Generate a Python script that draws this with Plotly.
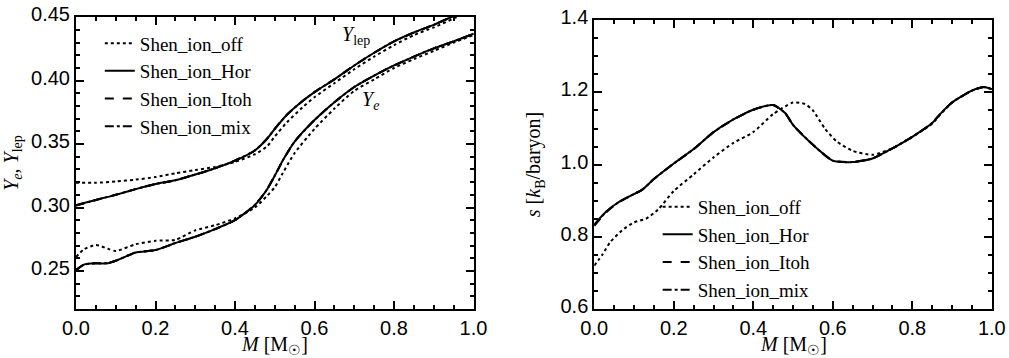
import plotly.graph_objects as go

# ---------------- data ----------------
M_lep = [0, .05, .1, .15, .2, .25, .3, .35, .4, .45, .48, .5, .53, .57, .6, .65, .7, .75, .8, .85, .9, .95, 1.0]
ylep_hor = [.302, .306, .310, .3145, .3185, .3215, .326, .331, .337, .345, .354, .362, .373, .384, .391, .401, .412, .422, .431, .438, .444, .451, .458]
ylep_itoh = [.3015, .306, .310, .3145, .3185, .3215, .326, .331, .337, .345, .354, .362, .373, .384, .391, .401, .412, .422, .431, .438, .444, .451, .458]
ylep_mix = [.3015, .306, .310, .3145, .3185, .3215, .326, .331, .337, .345, .354, .362, .373, .384, .391, .401, .412, .422, .431, .438, .444, .451, .458]
ylep_off = [.3195, .3195, .3205, .322, .324, .327, .3295, .332, .336, .342, .348, .356, .367, .379, .387, .398, .409, .419, .428, .436, .442, .449, .456]

M_ye = [0, .02, .05, .08, .1, .15, .2, .25, .3, .35, .4, .45, .48, .5, .52, .55, .6, .65, .7, .75, .8, .85, .9, .95, 1.0]
ye_hor = [.251, .255, .256, .256, .258, .2645, .2665, .272, .277, .283, .29, .302, .314, .325, .337, .352, .369, .383, .395, .404, .412, .419, .4255, .431, .437]
ye_itoh = [.2505, .255, .256, .2562, .258, .2645, .2665, .272, .277, .283, .29, .302, .314, .325, .337, .352, .369, .383, .395, .404, .412, .419, .4255, .431, .437]
ye_mix = [.2505, .255, .256, .2562, .258, .2645, .2665, .272, .277, .283, .29, .302, .314, .325, .337, .352, .369, .383, .395, .404, .412, .419, .4255, .431, .437]
M_ye_off = [0, .02, .05, .08, .1, .15, .2, .25, .3, .35, .4, .45, .48, .5, .52, .55, .6, .65, .7, .75, .8, .85, .9, .95, 1.0]
ye_off = [.261, .267, .2705, .2675, .2657, .271, .2738, .2745, .282, .286, .2915, .300, .309, .316, .327, .343, .362, .378, .392, .401, .410, .417, .4235, .430, .436]

M_s = [0, .03, .06, .09, .12, .15, .2, .25, .3, .35, .4, .45, .48, .5, .55, .6, .65, .7, .75, .8, .85, .87, .9, .95, .98, 1.0]
s_hor = [.834, .87, .895, .913, .93, .96, 1.003, 1.043, 1.09, 1.125, 1.152, 1.165, 1.143, 1.11, 1.055, 1.011, 1.007, 1.017, 1.045, 1.077, 1.115, 1.14, 1.172, 1.205, 1.215, 1.209]
s_itoh = [.830, .868, .895, .913, .93, .96, 1.003, 1.043, 1.09, 1.125, 1.152, 1.165, 1.143, 1.11, 1.055, 1.011, 1.007, 1.017, 1.045, 1.077, 1.115, 1.14, 1.172, 1.205, 1.215, 1.209]
s_mix = [.832, .869, .895, .913, .93, .96, 1.003, 1.043, 1.09, 1.125, 1.152, 1.165, 1.143, 1.11, 1.055, 1.011, 1.007, 1.017, 1.045, 1.077, 1.115, 1.14, 1.172, 1.205, 1.215, 1.209]
M_s_off = [0, .02, .04, .07, .1, .13, .16, .2, .25, .3, .35, .4, .45, .5, .53, .55, .58, .61, .65, .7, .75, .8, .85, .87, .9, .95, .98, 1.0]
s_off = [.72, .75, .785, .818, .84, .85, .875, .927, .973, 1.02, 1.06, 1.09, 1.14, 1.172, 1.168, 1.15, 1.1, 1.064, 1.038, 1.027, 1.045, 1.077, 1.113, 1.138, 1.172, 1.205, 1.215, 1.209]

names = ["Shen_ion_off", "Shen_ion_Hor", "Shen_ion_Itoh", "Shen_ion_mix"]
dashes = ["dot", "solid", "dash", "dashdot"]

x_ticks = [0.0, 0.2, 0.4, 0.6, 0.8, 1.0]
yl_ticks = [0.25, 0.30, 0.35, 0.40, 0.45]
yr_ticks = [0.6, 0.8, 1.0, 1.2, 1.4]

SERIF = "Liberation Serif"
SANS = "Liberation Sans"

fig = go.Figure()

left_lep = [(M_lep, ylep_off), (M_lep, ylep_hor), (M_lep, ylep_itoh), (M_lep, ylep_mix)]
left_ye = [(M_ye_off, ye_off), (M_ye, ye_hor), (M_ye, ye_itoh), (M_ye, ye_mix)]
right_s = [(M_s_off, s_off), (M_s, s_hor), (M_s, s_itoh), (M_s, s_mix)]

for i in range(4):
    fig.add_trace(go.Scatter(x=left_lep[i][0], y=left_lep[i][1], mode="lines", name=names[i],
                             line=dict(color="black", width=2, dash=dashes[i], shape="spline", smoothing=0.6),
                             xaxis="x", yaxis="y", legend="legend", showlegend=True))
for i in range(4):
    fig.add_trace(go.Scatter(x=left_ye[i][0], y=left_ye[i][1], mode="lines", name=names[i],
                             line=dict(color="black", width=2, dash=dashes[i], shape="spline", smoothing=0.6),
                             xaxis="x", yaxis="y", showlegend=False))
for i in range(4):
    fig.add_trace(go.Scatter(x=right_s[i][0], y=right_s[i][1], mode="lines", name=names[i],
                             line=dict(color="black", width=2, dash=dashes[i], shape="spline", smoothing=0.6),
                             xaxis="x2", yaxis="y2", legend="legend2", showlegend=True))

axis_common = dict(showline=True, linecolor="black", linewidth=2, mirror="ticks",
                   ticks="inside", ticklen=8, tickwidth=1.5, tickcolor="black",
                   showgrid=False, zeroline=False, ticklabeloverflow="allow",
                   tickfont=dict(family=SANS, size=20, color="black"))

minor_x = dict(ticks="inside", ticklen=4, dtick=0.05, tickcolor="black", tickwidth=1.5)

fig.update_layout(
    width=1009, height=358,
    margin=dict(l=76, r=14, t=3, b=49),
    paper_bgcolor="white", plot_bgcolor="white",
    font=dict(family=SERIF, size=19, color="black"),
    xaxis=dict(domain=[0, 0.4342], range=[0, 1.0005], tickvals=x_ticks, tickformat=".1f",
               minor=minor_x, anchor="y", **axis_common),
    yaxis=dict(domain=[0, 1], range=[0.22, 0.4502], tickvals=yl_ticks, tickformat=".2f",
               ticklabelshift=-3,
               minor=dict(ticks="inside", ticklen=4, dtick=0.01, tickcolor="black", tickwidth=1.5),
               title=dict(text="<i>Y</i><sub><i>e</i></sub>, <i>Y</i><sub>lep</sub>",
                          font=dict(family=SERIF, size=20, color="black"), standoff=8),
               anchor="x", **axis_common),
    xaxis2=dict(domain=[0.5658, 1], range=[0, 1.0005], tickvals=x_ticks, tickformat=".1f",
                minor=minor_x, anchor="y2", **axis_common),
    yaxis2=dict(domain=[0, 0.990], range=[0.6, 1.4008], tickvals=yr_ticks, tickformat=".1f",
                ticklabelshift=-3,
                minor=dict(ticks="inside", ticklen=4, dtick=0.05, tickcolor="black", tickwidth=1.5),
                title=dict(text="<i>s</i> [<i>k</i><sub>B</sub>/baryon]",
                           font=dict(family=SERIF, size=20, color="black"), standoff=14),
                anchor="x2", **axis_common),
    legend=dict(x=0.026, y=0.975, xanchor="left", yanchor="top", bgcolor="rgba(0,0,0,0)",
                font=dict(family=SERIF, size=19, color="black"), itemwidth=30,
                tracegroupgap=0),
    legend2=dict(x=0.635, y=0.415, xanchor="left", yanchor="top", bgcolor="rgba(0,0,0,0)",
                 font=dict(family=SERIF, size=19, color="black"), itemwidth=30,
                 tracegroupgap=0),
    annotations=[
        dict(text="<i>Y</i><sub>lep</sub>", x=0.704, y=0.4357, xref="x", yref="y", showarrow=False,
             font=dict(family=SERIF, size=20, color="black")),
        dict(text="<i>Y</i><sub><i>e</i></sub>", x=0.742, y=0.3846, xref="x", yref="y", showarrow=False,
             font=dict(family=SERIF, size=20, color="black")),
        dict(text="<i>M</i> [M<sub>☉</sub>]", x=0.2171, y=-0.125, xref="paper", yref="paper",
             xanchor="center", yanchor="middle", showarrow=False,
             font=dict(family=SERIF, size=20, color="black")),
        dict(text="<i>M</i> [M<sub>☉</sub>]", x=0.7829, y=-0.125, xref="paper", yref="paper",
             xanchor="center", yanchor="middle", showarrow=False,
             font=dict(family=SERIF, size=20, color="black")),
    ],
)

fig.write_html("out.html", config={"displayModeBar": False},
               post_script="document.body.style.margin='0';document.body.style.overflow='hidden';")
